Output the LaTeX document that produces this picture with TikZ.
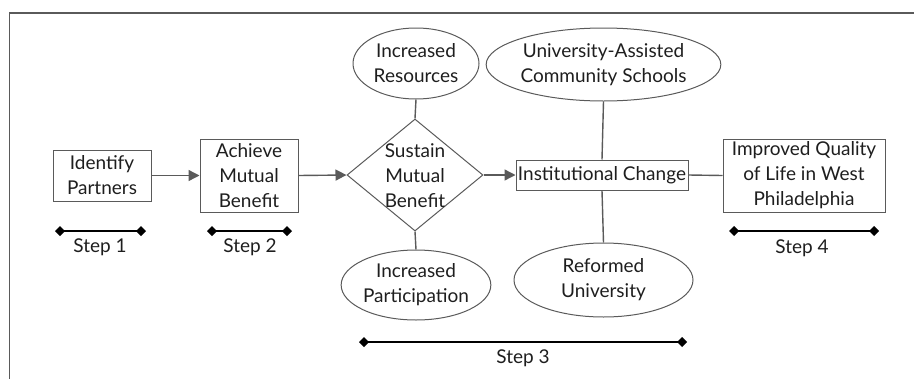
\documentclass[tikz,border=0pt]{standalone}
\usepackage{fontspec}
\setmainfont{Lato}
\usetikzlibrary{shapes.geometric,arrows.meta}
\definecolor{lineg}{HTML}{5A5A5A}
\definecolor{txt}{HTML}{1E1E1E}
\tikzset{
  every node/.style={font=\fontsize{19}{25}\selectfont, text=txt, align=center},
  boxnode/.style={draw=lineg, line width=1pt, rectangle, inner sep=0pt},
  ellnode/.style={draw=lineg, line width=1pt, ellipse, inner sep=0pt},
  conn/.style={draw=lineg, line width=1.4pt},
  arr/.style={conn, -{Triangle[length=11pt,width=11pt]}},
  stepbar/.style={draw=black, line width=1.2pt, {Diamond[length=10pt,width=10pt]}-{Diamond[length=10pt,width=10pt]}},
  steplabel/.style={font=\fontsize{19}{22}\selectfont}
}
\begin{document}
\begin{tikzpicture}[x=1pt,y=-1pt]
\useasboundingbox (0,0) rectangle (914,378);
% frame
\draw[lineg, line width=1.6pt] (9.5,380) -- (9.5,13) -- (916,13);

% nodes
\node[boxnode, minimum width=98pt, minimum height=51pt] (ip) at (102,175.5) {Identify\\Partners};
\node[boxnode, minimum width=98pt, minimum height=73pt] (amb) at (249,175.5) {Achieve\\Mutual\\Benefit};
\node[draw=lineg, line width=1pt, diamond, aspect=1.214, minimum width=136pt, minimum height=112pt, inner sep=0pt] (smb) at (415,175) {};
\node (smbt) at (415,176) {Sustain\\Mutual\\Benefit};
\node[ellnode, minimum width=126pt, minimum height=71pt] (ir) at (416,63.5) {Increased\\Resources};
\node[ellnode, minimum width=126pt, minimum height=70pt] (ipart) at (416,285) {Increased\\Participation};
\node[boxnode, minimum width=172pt, minimum height=30pt] (ic) at (602,175) {Institutional Change};
\node[ellnode, minimum width=179pt, minimum height=73pt] (uacs) at (603.5,64.5) {University-Assisted\\Community Schools};
\node[ellnode, minimum width=179pt, minimum height=74pt] (ru) at (603.5,280) {Reformed\\University};
\node[boxnode, minimum width=162pt, minimum height=73pt] (iq) at (804,175.5) {Improved Quality\\of Life in West\\Philadelphia};

% connectors
\draw[arr] (ip.east) -- (amb.west);
\draw[arr] (amb.east) -- (smb.west);
\draw[arr] (smb.east) -- (ic.west);
\draw[conn] (ir.south) -- (smb.north);
\draw[conn] (smb.south) -- (ipart.north);
\draw[conn] (uacs.south) -- (ic.north);
\draw[conn] (ic.south) -- (ru.north);
\draw[conn] (ic.east) -- (iq.west);

% step bars
\coordinate (s1a) at (55,231); \coordinate (s1b) at (146,231);
\coordinate (s2a) at (207,231); \coordinate (s2b) at (292,231);
\coordinate (s3a) at (359,342); \coordinate (s3b) at (687,342);
\coordinate (s4a) at (729,231); \coordinate (s4b) at (879,231);
\draw[stepbar] (s1a) -- (s1b);
\draw[stepbar] (s2a) -- (s2b);
\draw[stepbar] (s3a) -- (s3b);
\draw[stepbar] (s4a) -- (s4b);
\node[steplabel] (l1) at (100,247) {Step 1};
\node[steplabel] (l2) at (250,247) {Step 2};
\node[steplabel] (l3) at (523,358) {Step 3};
\node[steplabel] (l4) at (802,248) {Step 4};
\end{tikzpicture}
\end{document}
